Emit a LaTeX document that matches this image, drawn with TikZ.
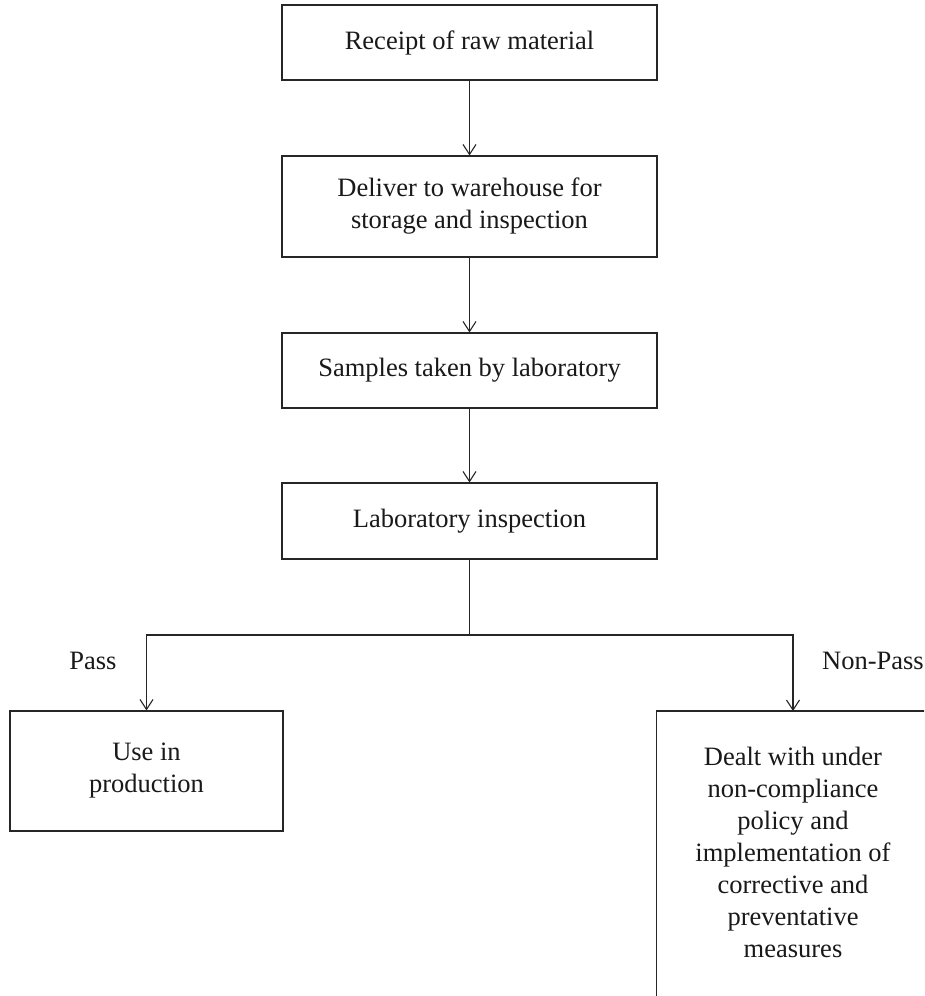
\documentclass[tikz,border=0pt]{standalone}
\usepackage{fontspec}
\setmainfont{Liberation Serif}
\usetikzlibrary{arrows.meta}
\begin{document}
\begin{tikzpicture}[x=1pt, y=-1pt,
  boxline/.style={draw=black!85, line width=1.1pt},
  stepbox/.style={boxline, align=center, inner sep=0pt,
    font=\fontsize{26.5}{32}\selectfont, text=black!90},
  flow/.style={boxline, -{Straight Barb[length=10pt,width=13pt,line width=1.1pt]}},
  tag/.style={font=\fontsize{26.5}{32}\selectfont, text=black!90, inner sep=0pt}]
  \clip (0,0) rectangle (924,996);
  \fill[white] (0,0) rectangle (924,996);

  % main column
  \node[stepbox, minimum width=375pt, minimum height=75pt] (receipt) at (469.5,42.5) {Receipt of raw material};
  \node[stepbox, minimum width=375pt, minimum height=101pt] (deliver) at (469.5,206.5) {Deliver to warehouse for\\storage and inspection};
  \node[stepbox, minimum width=375pt, minimum height=75pt] (samples) at (469.5,370.5) {Samples taken by laboratory};
  \node[stepbox, minimum width=375pt, minimum height=76pt] (labinsp) at (469.5,521) {Laboratory inspection};

  % outcomes
  \node[stepbox, minimum width=273pt, minimum height=120pt] (use) at (146.5,771) {Use in\\production};
  \node[stepbox, draw=none, minimum width=272pt, minimum height=282pt, anchor=north] (deal) at (793,711)
    {Dealt with under\\non-compliance\\policy and\\implementation of\\corrective and\\preventative\\measures};
  % this box runs on past the lower edge
  \draw[boxline] (deal.north west) rectangle ([yshift=-40pt]deal.south east);

  \coordinate (split) at (labinsp.south |- 0,635);
  \coordinate (passturn) at (use.north |- split);
  \coordinate (failturn) at (deal.north |- split);

  \draw[flow] (receipt) -- (deliver);
  \draw[flow] (deliver) -- (samples);
  \draw[flow] (samples) -- (labinsp);
  \draw[boxline] (labinsp.south) -- (split);
  \draw[flow] (split) -- (passturn) -- (use.north);
  \draw[flow] (split) -- (failturn) -- (deal.north);

  \node[tag] (passlbl) at (93,661) {Pass};
  \node[tag] (faillbl) at (873,661) {Non-Pass};
\end{tikzpicture}
\end{document}
